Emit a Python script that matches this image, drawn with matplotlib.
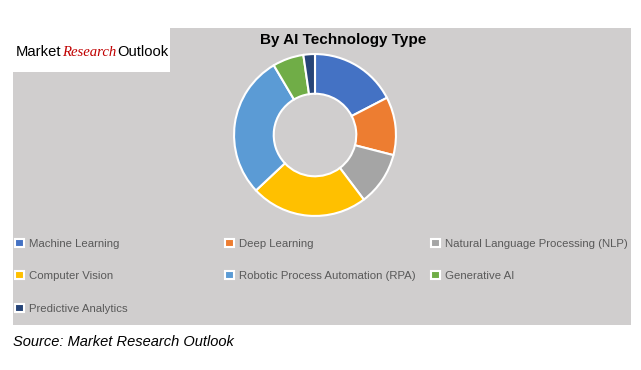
import matplotlib.pyplot as plt
from matplotlib.patches import Rectangle

# Share by AI technology type (%), clockwise from 12 o'clock
segments = ["Machine Learning", "Deep Learning", "Natural Language Processing (NLP)",
            "Computer Vision", "Robotic Process Automation (RPA)", "Generative AI",
            "Predictive Analytics"]
shares = [17.4, 11.6, 10.7, 23.3, 28.5, 6.2, 2.3]
colors = ["#4472C4", "#ED7D31", "#A5A5A5", "#FFC000", "#5B9BD5", "#70AD47", "#264478"]

W, H = 641, 370
fig = plt.figure(figsize=(W / 100, H / 100), dpi=100)
fig.patch.set_facecolor("white")

def fx(px):
    return px / W

def fy(py):
    return 1 - py / H

# grey panel
fig.patches.append(Rectangle((fx(13), fy(325)), fx(631) - fx(13), (325 - 28) / H,
                             transform=fig.transFigure, facecolor="#D0CECE",
                             edgecolor="none", zorder=0))
# logo box
fig.patches.append(Rectangle((fx(13), fy(72)), fx(170) - fx(13), (72 - 28) / H,
                             transform=fig.transFigure, facecolor="white",
                             edgecolor="none", zorder=1))

# logo words placed one after another
renderer = fig.canvas.get_renderer()
x = 16
for word, kw in [("Market", dict(family=["Liberation Sans", "DejaVu Sans"], color="black")),
                 ("Research", dict(family=["Liberation Serif", "DejaVu Serif"], style="italic",
                                   color="#C00000")),
                 ("Outlook", dict(family=["Liberation Sans", "DejaVu Sans"], color="black"))]:
    t = fig.text(fx(x), fy(52), word, fontsize=10.6, va="center", ha="left", zorder=3, **kw)
    x = t.get_window_extent(renderer).x1 + 1

# title
fig.text(fx(343), fy(40), "By AI Technology Type", fontsize=11, fontweight="bold",
         family=["Liberation Sans", "DejaVu Sans"], ha="center", va="center")

# donut
cx, cy, R = 315, 135, 85
ax = fig.add_axes([fx(cx - R), fy(cy + R), 2 * R / W, 2 * R / H])
ax.set_zorder(5)
ax.set_facecolor("none")
wedges, _ = ax.pie(shares, colors=colors, startangle=90, counterclock=False,
                   radius=1.0, wedgeprops=dict(width=0.49, edgecolor="white", linewidth=1.5))
ax.set_xlim(-1.05, 1.05)
ax.set_ylim(-1.05, 1.05)
ax.set_aspect("equal")
ax.axis("off")

# legend, row-major in 3 columns
col_x = [15, 225, 431]
row_y = [244, 276, 309]
for i, (w, lab) in enumerate(zip(wedges, segments)):
    r, c = divmod(i, 3)
    leg = fig.legend([w], [lab], loc="center left", bbox_to_anchor=(fx(col_x[c]), fy(row_y[r])),
                     frameon=False, borderpad=0, borderaxespad=0, handlelength=0.75,
                     handleheight=0.75, handletextpad=0.45,
                     prop=dict(family=["Liberation Sans", "DejaVu Sans"], size=8.2),
                     labelcolor="#595959")
    leg.set_zorder(6)

# source
fig.text(fx(13), fy(342), "Source: Market Research Outlook", fontsize=10.5, style="italic",
         family=["Liberation Sans", "DejaVu Sans"], ha="left", va="center")

fig.savefig("out.png", dpi=100)
